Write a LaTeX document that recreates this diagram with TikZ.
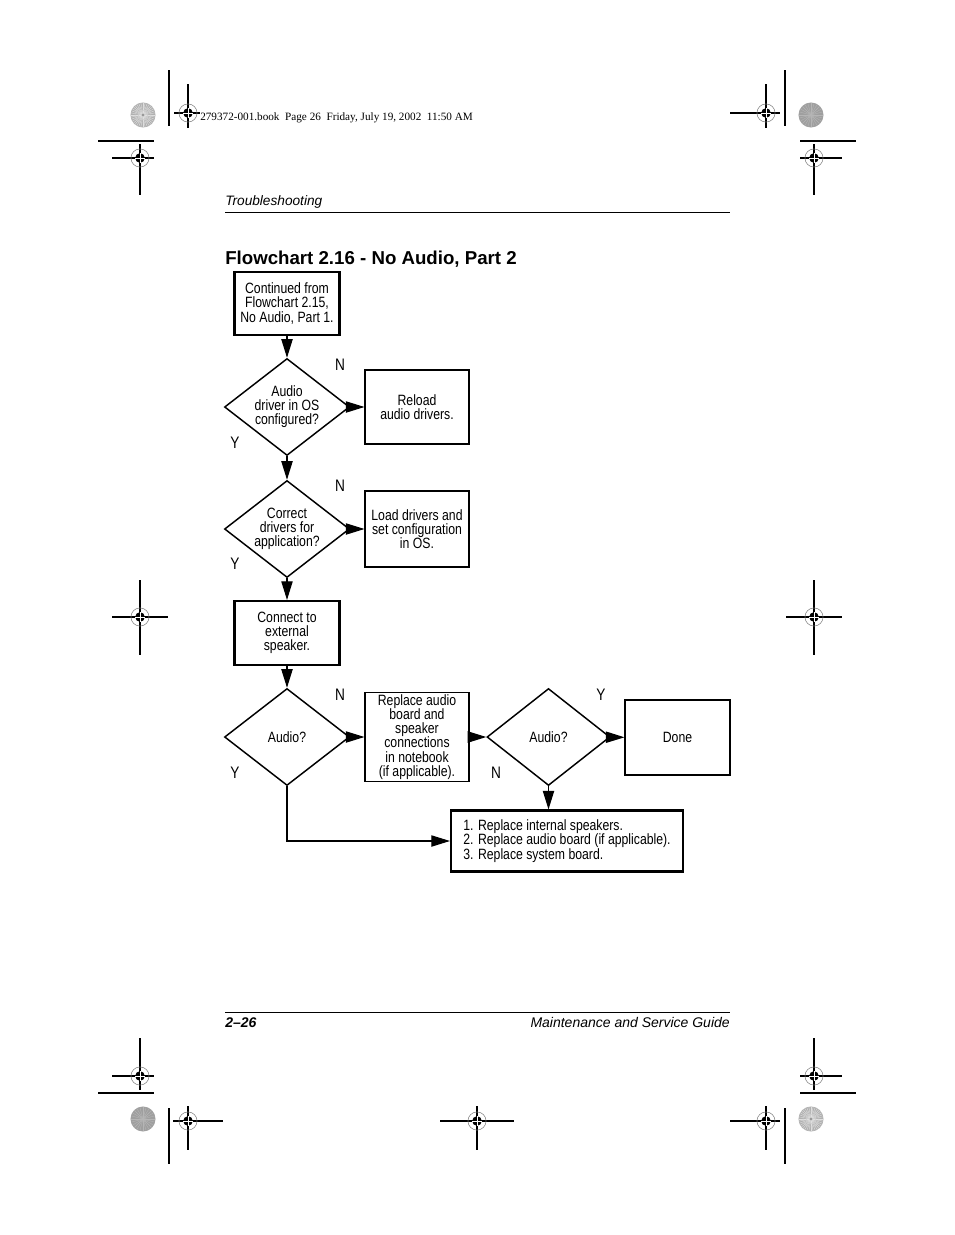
\documentclass[tikz,border=0pt]{standalone}
\usepackage{fontspec}
\setmainfont{Liberation Sans}
\newfontfamily\narrowfont[FakeStretch=0.82]{Liberation Sans}
\newfontfamily\serifhdr{Liberation Serif}
\usetikzlibrary{arrows.meta,shapes.geometric,calc}
\newcommand\PX{0.75pt}
\begin{document}
\begin{tikzpicture}[x=0.75pt,y=-0.75pt]
\tikzset{
  lbl/.style={font=\narrowfont\fontsize{11.2}{10.6}\selectfont, align=center, inner sep=0pt},
  thinbox/.style={lbl, draw, line width=0.8pt},
  thickbox/.style={lbl, draw, line width=1.6pt},
  dec/.style={lbl, draw, line width=1.1pt, shape=diamond, aspect=1.29,
              minimum width=125*\PX, minimum height=97*\PX},
  flow/.style={line width=0.8pt, -{Triangle[length=14pt,width=8.5pt]}},
  yn/.style={font=\narrowfont\fontsize{12.5}{12}\selectfont, inner sep=0pt},
  reg/.style={line width=0.8pt},
  regmark/.pic={
    \draw[gray, line width=0.4pt] (0,0) circle[radius=6.8pt];
    \fill (0,0) circle[radius=3.6pt];
    \draw[white, line width=0.6pt] (-3.6pt,0) -- (3.6pt,0) (0,-3.6pt) -- (0,3.6pt);
  },
  lightdisc/.pic={
    \fill[gray!62] (0,0) circle[radius=9.4pt];
    \foreach \a in {0,10,...,350} \draw[gray!25, line width=0.3pt] (0,0) -- (\a:9.2pt);
    \draw[gray!40, line width=0.3pt] (0,0) circle[radius=6pt] circle[radius=3.5pt];
    \fill[gray!80] (0,0) circle[radius=1.2pt];
  },
  darkdisc/.pic={
    \fill[gray!75] (0,0) circle[radius=9.4pt];
    \foreach \a in {0,15,...,345} \draw[gray!58, line width=0.3pt] (0,0) -- (\a:9.2pt);
  }
}
\useasboundingbox (0,0) rectangle (954,1235);

% ---------- printer marks ----------
% top-left
\pic at (143,115) {lightdisc};
\draw[reg] (169,70) -- (169,126);
\draw[reg] (174,113) -- (200,113) (188,84) -- (188,128);
\pic at (188,113) {regmark};
\draw[reg] (98,141) -- (154,141);
\draw[reg] (112,158) -- (154,158) (140,144) -- (140,195);
\pic at (140,158) {regmark};
% top-right
\pic at (811,115) {darkdisc};
\draw[reg] (785,70) -- (785,126);
\draw[reg] (730,113) -- (780,113) (766,84) -- (766,128);
\pic at (766,113) {regmark};
\draw[reg] (800,141) -- (856,141);
\draw[reg] (800,158) -- (842,158) (814,144) -- (814,195);
\pic at (814,158) {regmark};
% middle
\draw[reg] (112,617) -- (168,617) (140,580) -- (140,655);
\pic at (140,617) {regmark};
\draw[reg] (786,617) -- (842,617) (814,580) -- (814,655);
\pic at (814,617) {regmark};
% bottom-left
\draw[reg] (112,1076) -- (154,1076) (140,1038) -- (140,1090);
\pic at (140,1076) {regmark};
\draw[reg] (98,1093) -- (154,1093);
\pic at (143,1119) {darkdisc};
\draw[reg] (169,1108) -- (169,1164);
\draw[reg] (173,1121) -- (223,1121) (188,1106) -- (188,1150);
\pic at (188,1121) {regmark};
% bottom-centre
\draw[reg] (440,1121) -- (514,1121) (477,1106) -- (477,1150);
\pic at (477,1121) {regmark};
% bottom-right
\draw[reg] (730,1121) -- (780,1121) (766,1106) -- (766,1150);
\pic at (766,1121) {regmark};
\draw[reg] (785,1108) -- (785,1164);
\pic at (811,1119) {lightdisc};
\draw[reg] (800,1093) -- (856,1093);
\draw[reg] (800,1076) -- (842,1076) (814,1038) -- (814,1090);
\pic at (814,1076) {regmark};

% ---------- page texts ----------
\node[anchor=base west, inner sep=0pt, font=\serifhdr\fontsize{8.4}{10}\selectfont] (bookhdr) at (200,120)
  {279372-001.book\ \ Page 26\ \ Friday, July 19, 2002\ \ 11:50 AM};
\node[anchor=base west, inner sep=0pt, font=\itshape\fontsize{10.25}{12}\selectfont] (runhead) at (225,205) {Troubleshooting};
\draw[line width=0.75pt] (225,212) -- (730,212);
\node[anchor=base west, inner sep=0pt, font=\bfseries\fontsize{14}{16}\selectfont] (title) at (225,264)
  {Flowchart 2.16 - No Audio, Part 2};
\draw[line width=0.75pt] (225,1012) -- (730,1012);
\node[anchor=base west, inner sep=0pt, font=\bfseries\itshape\fontsize{10.5}{12}\selectfont] (pgno) at (225,1027) {2–26};
\node[anchor=base east, inner sep=0pt, font=\itshape\fontsize{10.5}{12}\selectfont] (guide) at (730,1027) {Maintenance and Service Guide};

% ---------- flowchart ----------
\node[thickbox, minimum width=105*\PX, minimum height=63*\PX] (b1) at (287,303.5)
  {Continued from\\Flowchart 2.15,\\No Audio, Part 1.};
\node[dec] (d1) at (287,407) {Audio\\driver in OS\\configured?};
\node[thinbox, minimum width=104*\PX, minimum height=74*\PX] (b2) at (417,407)
  {Reload\\audio drivers.};
\node[dec] (d2) at (287,529) {Correct\\drivers for\\application?};
\node[thinbox, minimum width=104*\PX, minimum height=76*\PX] (b3) at (417,529)
  {Load drivers and\\set configuration\\in OS.};
\node[thickbox, minimum width=105*\PX, minimum height=64*\PX] (b4) at (287,633)
  {Connect to\\external\\speaker.};
\node[dec] (d3) at (287,737) {Audio?};
\node[thinbox, minimum width=104*\PX, minimum height=89*\PX] (b5) at (417,737)
  {Replace audio\\board and\\speaker\\connections\\in notebook\\(if applicable).};
\node[dec, minimum width=123*\PX] (d4) at (548.5,737) {Audio?};
\node[thinbox, minimum width=105*\PX, minimum height=75*\PX] (done) at (677.5,737.5) {Done};
\node[thickbox, align=left, minimum width=232*\PX, minimum height=61*\PX] (b6) at (567,841)
  {1. Replace internal speakers.\\2. Replace audio board (if applicable).\\3. Replace system board.};

\node[yn] (n1) at (340,365) {N};
\node[yn] (y1) at (235,443) {Y};
\node[yn] (n2) at (340,486) {N};
\node[yn] (y2) at (235,564) {Y};
\node[yn] (n3) at (340,695) {N};
\node[yn] (y3) at (235,773) {Y};
\node[yn] (y4) at (601,695) {Y};
\node[yn] (n4) at (496,773) {N};

\draw[flow] (b1) -- (d1);
\draw[flow] (d1) -- (b2);
\draw[flow] (d1) -- (d2);
\draw[flow] (d2) -- (b3);
\draw[flow] (d2) -- (b4);
\draw[flow] (b4) -- (d3);
\draw[flow] (d3) -- (b5);
\draw[flow] (b5) -- (d4);
\draw[flow] (d4) -- (done);
\draw[flow] (d4.south) -- (d4.south |- b6.north);
\draw[flow] (d3.south) |- (b6.west);
\end{tikzpicture}
\end{document}
